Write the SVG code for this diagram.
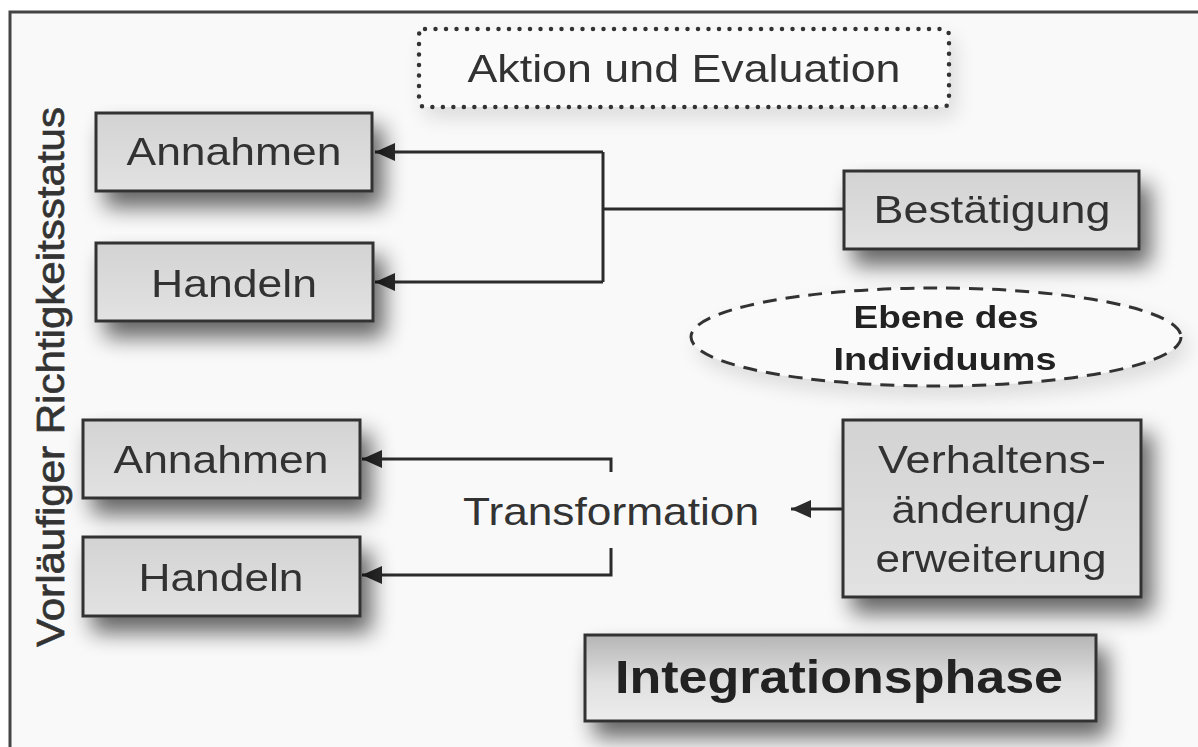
<svg xmlns="http://www.w3.org/2000/svg" width="1198" height="747" viewBox="0 0 1198 747">
  <defs>
    <linearGradient id="boxFill" x1="0" y1="0" x2="0" y2="1">
      <stop offset="0" stop-color="#d3d3d3"/>
      <stop offset="1" stop-color="#e2e2e2"/>
    </linearGradient>
    <linearGradient id="phaseFill" x1="0" y1="0" x2="0" y2="1">
      <stop offset="0" stop-color="#b5b5b5"/>
      <stop offset="0.55" stop-color="#e0e0e0"/>
      <stop offset="1" stop-color="#ededed"/>
    </linearGradient>
    <filter id="shadow" x="-20%" y="-30%" width="150%" height="190%">
      <feGaussianBlur in="SourceAlpha" stdDeviation="11"/>
      <feOffset dx="10" dy="15"/>
      <feComponentTransfer><feFuncA type="linear" slope="0.6"/></feComponentTransfer>
      <feMerge><feMergeNode/><feMergeNode in="SourceGraphic"/></feMerge>
    </filter>
    <filter id="softShadow" x="-20%" y="-30%" width="150%" height="190%">
      <feGaussianBlur in="SourceAlpha" stdDeviation="10"/>
      <feOffset dx="6" dy="10"/>
      <feComponentTransfer><feFuncA type="linear" slope="0.12"/></feComponentTransfer>
      <feMerge><feMergeNode/><feMergeNode in="SourceGraphic"/></feMerge>
    </filter>
    <marker id="arrow" viewBox="0 0 20 18" refX="20" refY="9" markerWidth="20" markerHeight="18" markerUnits="userSpaceOnUse" orient="auto">
      <path d="M0 0 L20 9 L0 18 Z" fill="#2b2b2b"/>
    </marker>
    <style>
      .box { fill: url(#boxFill); stroke: #333; stroke-width: 3; }
      .phase { fill: url(#phaseFill); stroke: #333; stroke-width: 3; }
      .lbl { font-family: "Liberation Sans", Arial, sans-serif; font-size: 39px; fill: #333; text-anchor: middle; }
      .bold { font-family: "Liberation Sans", Arial, sans-serif; font-weight: bold; fill: #222; text-anchor: middle; }
      .conn { fill: none; stroke: #2b2b2b; stroke-width: 3; }
      .frame { fill: none; stroke: #444; stroke-width: 3; }
    </style>
  </defs>

  <rect x="0" y="0" width="1198" height="747" fill="#ffffff"/>
  <rect x="10" y="12" width="1188" height="735" fill="#f9f9f9"/>
  <path class="frame" d="M10 747 V12 H1198"/>

  <!-- side caption -->
  <text class="lbl" transform="translate(64,377) rotate(-90)" font-size="42" stroke="#333" stroke-width="0.7" textLength="540" lengthAdjust="spacingAndGlyphs">Vorläufiger Richtigkeitsstatus</text>

  <!-- header -->
  <g id="aktion-evaluation" filter="url(#softShadow)">
    <rect x="419" y="29" width="530" height="78" rx="6" fill="#fafafa" stroke="#333" stroke-width="4.5" stroke-dasharray="0 10.5" stroke-linecap="round"/>
    <text class="lbl" x="684" y="82" textLength="433" lengthAdjust="spacingAndGlyphs">Aktion und Evaluation</text>
  </g>

  <g id="connectors">
    <path class="conn" d="M844 209 H603"/>
    <path class="conn" d="M603 152 V282"/>
    <path class="conn" d="M603 152 H375" marker-end="url(#arrow)"/>
    <path class="conn" d="M603 282 H375" marker-end="url(#arrow)"/>
    <path class="conn" d="M611 472 V459 H362" marker-end="url(#arrow)"/>
    <path class="conn" d="M611 548 V575 H362" marker-end="url(#arrow)"/>
    <path class="conn" d="M843 509 H791" marker-end="url(#arrow)"/>
  </g>

  <g id="annahmen-1" filter="url(#shadow)">
    <rect class="box" x="96" y="113" width="276" height="78"/>
    <text class="lbl" x="234" y="165" textLength="215" lengthAdjust="spacingAndGlyphs">Annahmen</text>
  </g>
  <g id="handeln-1" filter="url(#shadow)">
    <rect class="box" x="96" y="243" width="277" height="78"/>
    <text class="lbl" x="234" y="297" textLength="166" lengthAdjust="spacingAndGlyphs">Handeln</text>
  </g>
  <g id="bestaetigung" filter="url(#shadow)">
    <rect class="box" x="844" y="171" width="295" height="78"/>
    <text class="lbl" x="992" y="223" textLength="237" lengthAdjust="spacingAndGlyphs">Bestätigung</text>
  </g>

  <g id="ebene-individuum" filter="url(#softShadow)">
    <ellipse cx="936" cy="337" rx="245" ry="49" fill="#fafafa" stroke="#333" stroke-width="3" stroke-dasharray="14 9"/>
    <text class="bold" x="946" y="328" font-size="31" textLength="185" lengthAdjust="spacingAndGlyphs">Ebene des</text>
    <text class="bold" x="945" y="370" font-size="31" textLength="223" lengthAdjust="spacingAndGlyphs">Individuums</text>
  </g>

  <g id="annahmen-2" filter="url(#shadow)">
    <rect class="box" x="83" y="420" width="277" height="78"/>
    <text class="lbl" x="221" y="473" textLength="215" lengthAdjust="spacingAndGlyphs">Annahmen</text>
  </g>
  <g id="handeln-2" filter="url(#shadow)">
    <rect class="box" x="83" y="537" width="277" height="79"/>
    <text class="lbl" x="221" y="591" textLength="165" lengthAdjust="spacingAndGlyphs">Handeln</text>
  </g>

  <g id="transformation">
    <text class="lbl" x="611" y="525" textLength="296" lengthAdjust="spacingAndGlyphs">Transformation</text>
  </g>

  <g id="verhaltensaenderung" filter="url(#shadow)">
    <rect class="box" x="843" y="420" width="298" height="177"/>
    <text class="lbl" x="992" y="473" textLength="228" lengthAdjust="spacingAndGlyphs">Verhaltens-</text>
    <text class="lbl" x="990" y="523" textLength="197" lengthAdjust="spacingAndGlyphs">änderung/</text>
    <text class="lbl" x="991" y="572" textLength="231" lengthAdjust="spacingAndGlyphs">erweiterung</text>
  </g>

  <g id="integrationsphase" filter="url(#shadow)">
    <rect class="phase" x="585" y="635" width="511" height="86"/>
    <text class="bold" x="839" y="693" font-size="46" textLength="448" lengthAdjust="spacingAndGlyphs">Integrationsphase</text>
  </g>
</svg>
